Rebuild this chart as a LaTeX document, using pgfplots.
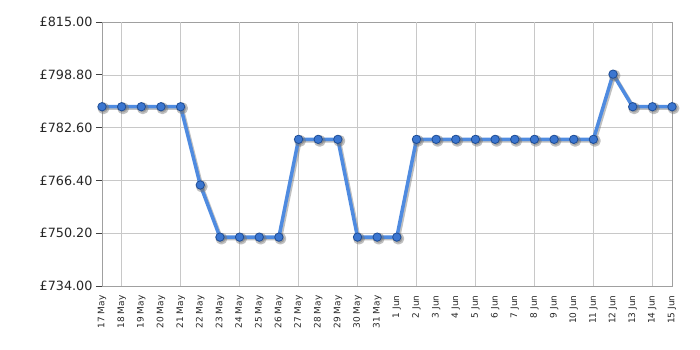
\documentclass[border=0pt]{standalone}
\usepackage{fontspec}
\setmainfont{DejaVu Sans}
\usepackage{pgfplots}
\pgfplotsset{compat=1.18}
\definecolor{lineblue}{HTML}{4F8BE0}
\definecolor{markfill}{HTML}{3B76D0}
\definecolor{markedge}{HTML}{1E4D96}
\definecolor{gridgray}{HTML}{C8C8C8}
\definecolor{axisgray}{HTML}{A0A0A0}
\begin{document}
\begin{tikzpicture}
\useasboundingbox (0,0) rectangle (700bp,350bp);
\begin{axis}[
  at={(102bp,64bp)}, anchor=south west,
  scale only axis, width=570bp, height=264bp,
  xmin=0, xmax=29, ymin=734, ymax=815,
  axis line style={axisgray, line width=0.8pt},
  ytick pos=left, xtick pos=bottom,
  ytick={734,750.2,766.4,782.6,798.8,815},
  yticklabels={£734.00,£750.20,£766.40,£782.60,£798.80,£815.00},
  yticklabel style={font=\fontsize{12.8}{14}\selectfont, text=black!85},
  ymajorgrids, grid style={gridgray, line width=0.6pt},
  xtick={0,...,29},
  xticklabels={17 May,18 May,19 May,20 May,21 May,22 May,23 May,24 May,25 May,26 May,27 May,28 May,29 May,30 May,31 May,1 Jun,2 Jun,3 Jun,4 Jun,5 Jun,6 Jun,7 Jun,8 Jun,9 Jun,10 Jun,11 Jun,12 Jun,13 Jun,14 Jun,15 Jun},
  xticklabel style={font=\fontsize{9}{10}\selectfont, rotate=90, anchor=east, text=black!85},
  xmajorgrids=false,
  tick align=outside,
  major tick length=6bp,
  tick style={black!75, line width=0.8pt},
  x tick style={draw=none},
  extra x ticks={1,4,7,10,13,16,19,22,25,28},
  extra x tick labels={},
  extra x tick style={grid=major, tick style={black!75, line width=0.8pt}, major tick length=5bp},
  clip=false,
]
\addplot[black!55, opacity=0.45, line width=3.5bp, line join=round, shift={(1.5bp,-1.5bp)}, mark=*, mark size=4.2bp, mark options={fill=black!55, draw=none}] coordinates {
(0,789)(1,789)(2,789)(3,789)(4,789)(5,765)(6,749)(7,749)(8,749)(9,749)
(10,779)(11,779)(12,779)(13,749)(14,749)(15,749)(16,779)(17,779)(18,779)(19,779)
(20,779)(21,779)(22,779)(23,779)(24,779)(25,779)(26,799)(27,789)(28,789)(29,789)};
\addplot[lineblue, line width=3.5bp, line join=round, mark=*, mark size=4.2bp, mark options={fill=markfill, draw=markedge, line width=0.8bp}] coordinates {
(0,789)(1,789)(2,789)(3,789)(4,789)(5,765)(6,749)(7,749)(8,749)(9,749)
(10,779)(11,779)(12,779)(13,749)(14,749)(15,749)(16,779)(17,779)(18,779)(19,779)
(20,779)(21,779)(22,779)(23,779)(24,779)(25,779)(26,799)(27,789)(28,789)(29,789)};
\end{axis}
\end{tikzpicture}
\end{document}
